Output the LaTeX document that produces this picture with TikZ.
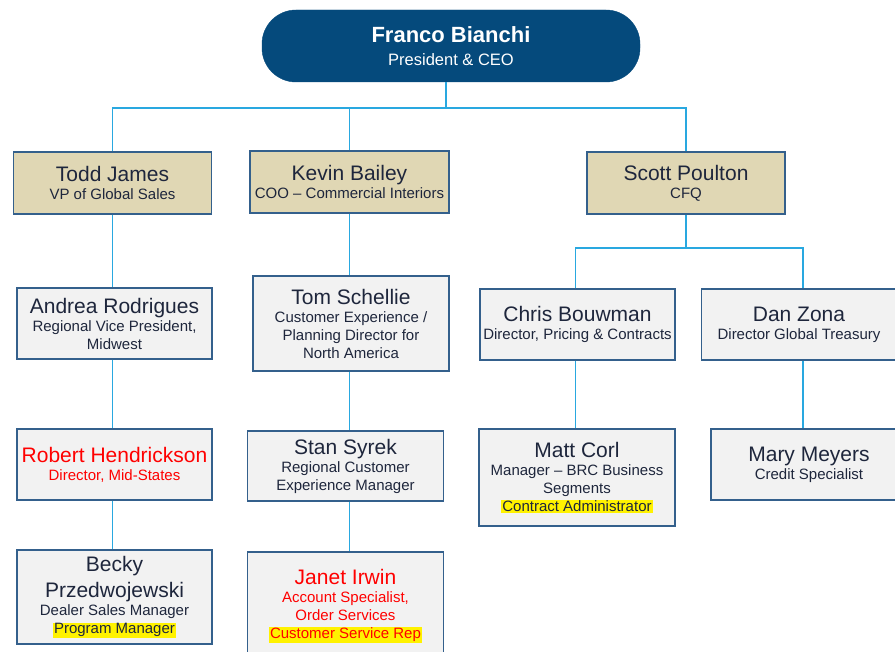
\documentclass[tikz,border=0pt]{standalone}
\usepackage{fontspec}
\setmainfont{Liberation Sans}
\usepackage{tikz}

\definecolor{ceoblue}{RGB}{5,74,124}
\definecolor{edgeblue}{RGB}{52,96,140}
\definecolor{linkblue}{RGB}{41,168,224}
\definecolor{tan}{RGB}{224,215,180}
\definecolor{paper}{RGB}{242,242,242}
\definecolor{ink}{RGB}{30,38,60}

\newcommand{\nm}[1]{{\fontsize{21}{24}\selectfont #1}}
\newcommand{\hlite}[1]{{\setlength{\fboxsep}{1pt}\colorbox{yellow}{#1}}}

\begin{document}
\begin{tikzpicture}[x=1pt, y=-1pt,
    ceo/.style={draw=ceoblue, fill=ceoblue, rounded corners=34pt, text=white,
        minimum width=378pt, minimum height=72pt, align=center,
        font=\fontsize{16.5}{23}\selectfont},
    exec/.style={draw=edgeblue, line width=1.4pt, fill=tan, text=ink, align=center,
        inner sep=1pt, font=\fontsize{15}{18}\selectfont},
    staff/.style={exec, fill=paper},
    link/.style={draw=linkblue, line width=1.8pt}
]
    \useasboundingbox (0,0) rectangle (895,652);
    \clip (0,0) rectangle (895,652);

    % top
    \node[ceo] (ceo) at (451,46)
        {{\fontsize{22}{24}\selectfont\bfseries Franco Bianchi}\\
         President \& CEO};

    % executives
    \node[exec, minimum width=198pt, minimum height=62pt] (todd) at (112.5,183)
        {\nm{Todd James}\\ VP of Global Sales};
    \node[exec, minimum width=199pt, minimum height=62pt] (kevin) at (349.5,182)
        {\nm{Kevin Bailey}\\ COO -- Commercial Interiors};
    \node[exec, minimum width=198pt, minimum height=62pt] (scott) at (686,183)
        {\nm{Scott Poulton}\\ CFQ};

    % second level
    \node[staff, minimum width=195pt, minimum height=71pt] (andrea) at (114.5,323.5)
        {\nm{Andrea Rodrigues}\\ Regional Vice President,\\ Midwest};
    \node[staff, minimum width=196pt, minimum height=95pt] (tom) at (351,323.5)
        {\nm{Tom Schellie}\\ Customer Experience /\\ Planning Director for\\ North America};
    \node[staff, minimum width=195pt, minimum height=71pt] (chris) at (577.5,324.5)
        {\nm{Chris Bouwman}\\ Director, Pricing \& Contracts};
    \node[staff, minimum width=195pt, minimum height=71pt] (dan) at (799,324.5)
        {\nm{Dan Zona}\\ Director Global Treasury};

    % third level
    \node[staff, minimum width=195pt, minimum height=71pt, text=red] (robert) at (114.5,464.5)
        {\nm{Robert Hendrickson}\\ Director, Mid-States};
    \node[staff, minimum width=196pt, minimum height=70pt] (stan) at (345.5,466)
        {\nm{Stan Syrek}\\ Regional Customer\\ Experience Manager};
    \node[staff, minimum width=196pt, minimum height=97pt] (matt) at (577,477.5)
        {\nm{Matt Corl}\\ Manager -- BRC Business\\ Segments\\ \hlite{Contract Administrator}};
    \node[staff, minimum width=196pt, minimum height=71pt] (mary) at (809,464.5)
        {\nm{Mary Meyers}\\ Credit Specialist};

    % fourth level
    \node[staff, minimum width=195pt, minimum height=94pt] (becky) at (114.5,597)
        {\nm{Becky}\\[6pt] \nm{Przedwojewski}\\ Dealer Sales Manager\\ \hlite{Program Manager}};
    \node[staff, minimum width=196pt, minimum height=108pt, text=red] (janet) at (345.5,606)
        {\nm{Janet Irwin}\\ Account Specialist,\\ Order Services\\ \hlite{Customer Service Rep}};

    % connectors
    \coordinate (ceobus) at (446,108);
    \coordinate (cfobus) at (688,248);
    \draw[link] (ceo.south -| ceobus) -- (ceobus);
    \draw[link] (todd.north) |- (ceobus) -| (scott.north);
    \draw[link] (kevin.north) -- (kevin.north |- ceobus);

    \draw[link] (todd.south) -- (andrea.north -| todd);
    \draw[link] (andrea.south -| todd) -- (robert.north -| todd);
    \draw[link] (robert.south -| todd) -- (becky.north -| todd);

    \draw[link] (kevin.south) -- (tom.north -| kevin);
    \draw[link] (tom.south -| kevin) -- (stan.north -| kevin);
    \draw[link] (stan.south -| kevin) -- (janet.north -| kevin);

    \draw[link] (scott.south) -- (scott.south |- cfobus);
    \draw[link] ([xshift=-2pt]chris.north) |- (cfobus) -| ([xshift=4pt]dan.north);
    \draw[link] ([xshift=-2pt]chris.south) -- ([xshift=-2pt]chris.south |- matt.north);
    \draw[link] ([xshift=4pt]dan.south) -- ([xshift=4pt]dan.south |- mary.north);
\end{tikzpicture}
\end{document}
